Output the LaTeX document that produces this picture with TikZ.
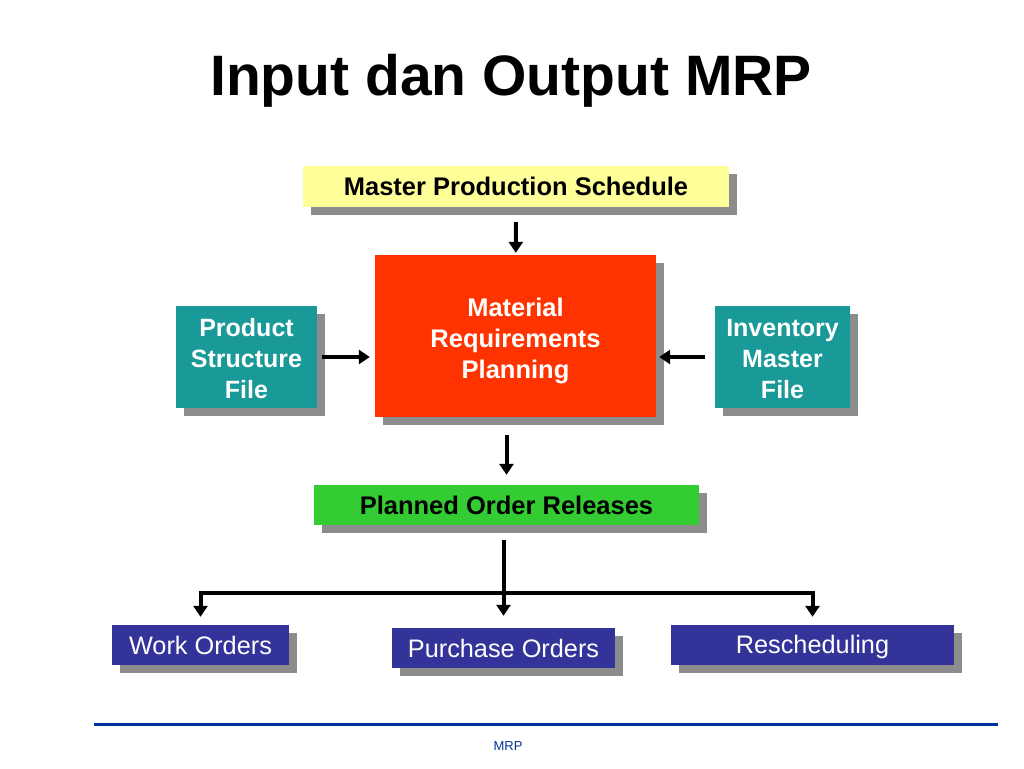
\documentclass[tikz,border=0pt]{standalone}
\usepackage{fontspec}
\setmainfont{Liberation Sans}
\usetikzlibrary{positioning,arrows.meta,shadows}
\definecolor{mpsyellow}{HTML}{FFFF99}
\definecolor{mrpred}{HTML}{FF3300}
\definecolor{fileteal}{HTML}{1A9999}
\definecolor{porgreen}{HTML}{33CC33}
\definecolor{ordblue}{HTML}{333399}
\definecolor{shadowgray}{HTML}{8C8C8C}
\definecolor{ruleblue}{HTML}{003399}

\begin{document}
\begin{tikzpicture}[x=1pt,y=-1pt,
  box/.style={inner sep=0pt,align=center,drop shadow={shadow xshift=8pt,shadow yshift=-8pt,opacity=1,fill=shadowgray}},
  flow/.style={-{Triangle[length=11pt,width=14pt]},line width=4pt}]
\useasboundingbox (0,0) rectangle (1024,768);
\node[anchor=base,font=\bfseries\fontsize{57}{68}\selectfont] (title) at (511,95) {Input dan Output MRP};
% inputs
\node[box,fill=mpsyellow,minimum width=426pt,minimum height=41pt,font=\bfseries\fontsize{25.5}{30}\selectfont] (mps) at (516,186.5) {Master Production Schedule};
\node[box,fill=mrpred,text=white,minimum width=281pt,minimum height=162pt,font=\bfseries\fontsize{25.5}{31}\selectfont] (mrp) at (515.5,336) {\rule{0pt}{28pt}Material\\Requirements\\Planning};
\node[box,fill=fileteal,text=white,minimum width=141pt,minimum height=102pt,font=\bfseries\fontsize{25}{31}\selectfont] (psf) at (246.5,357) {\rule{0pt}{22pt}Product\\Structure\\File};
\node[box,fill=fileteal,text=white,minimum width=135pt,minimum height=102pt,font=\bfseries\fontsize{25}{31}\selectfont] (imf) at (782.5,357) {\rule{0pt}{22pt}Inventory\\Master\\File};
% outputs
\node[box,fill=porgreen,minimum width=385pt,minimum height=40pt,font=\bfseries\fontsize{25.5}{30}\selectfont] (por) at (506.5,505) {Planned Order Releases};
\node[box,fill=ordblue,text=white,minimum width=177pt,minimum height=40pt,font=\fontsize{25.3}{30}\selectfont] (wo) at (200.5,645) {Work Orders};
\node[box,fill=ordblue,text=white,minimum width=223pt,minimum height=40pt,font=\fontsize{25.3}{30}\selectfont] (po) at (503.5,648) {Purchase Orders};
\node[box,fill=ordblue,text=white,minimum width=283pt,minimum height=40pt,font=\fontsize{25.3}{30}\selectfont] (res) at (812.5,645) {\rule{0pt}{22pt}Rescheduling};
\coordinate (bus) at (0,593);
% connectors
\draw[flow,shorten <=15pt,shorten >=2pt] (mps) -- (mrp);
\draw[flow,shorten <=5pt,shorten >=5pt] (psf.east) -- (psf.east -| mrp.west);
\draw[flow,shorten <=10pt,shorten >=3pt] (imf.west) -- (imf.west -| mrp.east);
\draw[flow,shorten <=18pt,shorten >=10pt] (mrp.south -| por.north) -- (por.north);
\draw[flow,shorten <=15pt,shorten >=12pt] (por.south -| po.north) -- (po.north);
\draw[{Triangle[length=11pt,width=14pt]}-{Triangle[length=11pt,width=14pt]},line width=4pt,shorten <=8pt,shorten >=8pt]
  (wo.north) -- (wo.north |- bus) -- (res.north |- bus) -- (res.north);
% footer
\draw[ruleblue,line width=3pt] (94,724) -- (998,724);
\node[text=ruleblue,font=\fontsize{13}{15}\selectfont] (foot) at (508,746) {MRP};
\end{tikzpicture}
\end{document}
